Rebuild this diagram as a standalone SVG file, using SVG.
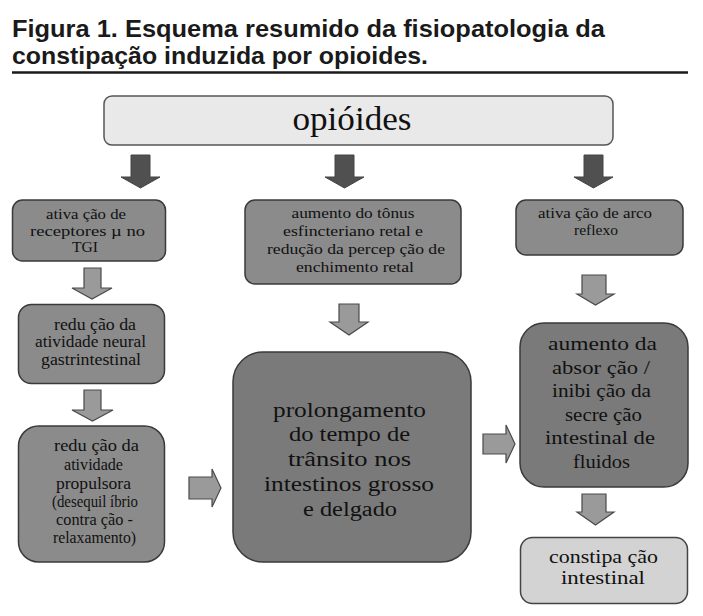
<svg xmlns="http://www.w3.org/2000/svg" width="703" height="616" viewBox="0 0 703 616">
<style>
.title{font-family:"Liberation Sans",Arial,sans-serif;font-weight:bold;font-size:24px;fill:#1a1a1a}
.t{font-family:"Liberation Serif","Times New Roman",serif;fill:#111;text-anchor:middle}
.s14{font-size:15px}
.s15{font-size:16px}
.s20{font-size:20.5px}
.s19{font-size:19.5px}
.box{fill:#8b8b8b;stroke:#3a3a3a;stroke-width:1.5}
.big{fill:#7a7a7a;stroke:#3a3a3a;stroke-width:1.5}
.light{fill:#e9e9e9;stroke:#555;stroke-width:1.5}
.light2{fill:#d3d3d3;stroke:#444;stroke-width:1.5}
.ad{fill:#505050;stroke:#444;stroke-width:1}
.al{fill:#9a9a9a;stroke:#4a4a4a;stroke-width:1.2}
</style>
<rect width="703" height="616" fill="#ffffff"/>
<g id="title">
<text class="title" x="12" y="37" textLength="593" lengthAdjust="spacingAndGlyphs">Figura 1. Esquema resumido da fisiopatologia da</text>
<text class="title" x="12" y="64" textLength="416" lengthAdjust="spacingAndGlyphs">constipação induzida por opioides.</text>
<line x1="12" y1="72.5" x2="688" y2="72.5" stroke="#1a1a1a" stroke-width="2.5"/>
</g>
<g id="connectors">
<polygon class="ad" points="131,155 150,155 150,177 160,177 140.5,188 121,177 131,177"/>
<polygon class="ad" points="335,155 354,155 354,177 364,177 344.5,188 325,177 335,177"/>
<polygon class="ad" points="584,155 603,155 603,177 613,177 593.5,188 574,177 584,177"/>
<polygon class="al" points="84,268 101,268 101,288 112,288 92,299 72,288 84,288"/>
<polygon class="al" points="84,390 101,390 101,410 113,410 92.5,421 72,410 84,410"/>
<polygon class="al" points="339,304 359,304 359,322 368,322 349,335 330,322 339,322"/>
<polygon class="al" points="582,275 606,275 606,294 614,294 595.5,305 577,294 582,294"/>
<polygon class="al" points="582,494 606,494 606,512 614,512 595.5,525 577,512 582,512"/>
<polygon class="al" points="189,477 212,477 212,469 221,488 212,507 212,499 189,499"/>
<polygon class="al" points="483,434 506,434 506,425 515,444 506,463 506,454 483,454"/>
</g>
<g id="opioides">
<rect class="light" x="104" y="96" width="509" height="49" rx="8"/>
<text class="t" x="352" y="130" font-size="33" textLength="119" lengthAdjust="spacingAndGlyphs">opióides</text>
</g>
<g id="receptores">
<rect class="box" x="12.5" y="200" width="153" height="61" rx="10"/>
<text class="t s14" x="86" y="219" textLength="80" lengthAdjust="spacingAndGlyphs">ativa ção de</text>
<text class="t s14" x="87.5" y="235.5" textLength="115" lengthAdjust="spacingAndGlyphs">receptores  µ no</text>
<text class="t s14" x="85" y="252" textLength="26" lengthAdjust="spacingAndGlyphs">TGI</text>
</g>
<g id="tonus">
<rect class="box" x="245" y="200" width="216" height="84" rx="10"/>
<text class="t s14" x="353" y="218" textLength="123" lengthAdjust="spacingAndGlyphs">aumento do tônus</text>
<text class="t s14" x="353" y="236" textLength="140" lengthAdjust="spacingAndGlyphs">esfincteriano retal e</text>
<text class="t s14" x="356" y="254" textLength="178" lengthAdjust="spacingAndGlyphs">redução da percep ção de</text>
<text class="t s14" x="355" y="271.5" textLength="118" lengthAdjust="spacingAndGlyphs">enchimento retal</text>
</g>
<g id="arco">
<rect class="box" x="516" y="200" width="167" height="55" rx="10"/>
<text class="t s14" x="595" y="218" textLength="114" lengthAdjust="spacingAndGlyphs">ativa ção de arco</text>
<text class="t s14" x="596" y="235" textLength="44" lengthAdjust="spacingAndGlyphs">reflexo</text>
</g>
<g id="neural">
<rect class="box" x="18.5" y="304.5" width="146" height="79" rx="13"/>
<text class="t s15" x="95" y="329.5" textLength="82" lengthAdjust="spacingAndGlyphs">redu ção da</text>
<text class="t s15" x="90.5" y="347" textLength="111" lengthAdjust="spacingAndGlyphs">atividade neural</text>
<text class="t s15" x="91" y="364.5" textLength="100" lengthAdjust="spacingAndGlyphs">gastrintestinal</text>
</g>
<g id="propulsora">
<rect class="box" x="18.5" y="426" width="146" height="136" rx="20"/>
<text class="t s15" x="96.5" y="451" textLength="85" lengthAdjust="spacingAndGlyphs">redu ção da</text>
<text class="t s15" x="93.5" y="470" textLength="59" lengthAdjust="spacingAndGlyphs">atividade</text>
<text class="t s15" x="93.5" y="488.5" textLength="75" lengthAdjust="spacingAndGlyphs">propulsora</text>
<text class="t s15" x="95" y="506.5" textLength="86" lengthAdjust="spacingAndGlyphs">(desequil íbrio</text>
<text class="t s15" x="94.5" y="525" textLength="77" lengthAdjust="spacingAndGlyphs">contra ção -</text>
<text class="t s15" x="94.5" y="543" textLength="83" lengthAdjust="spacingAndGlyphs">relaxamento)</text>
</g>
<g id="prolongamento">
<rect class="big" x="233" y="352" width="238" height="210" rx="30"/>
<text class="t s20" x="349.5" y="416.5" textLength="153" lengthAdjust="spacingAndGlyphs">prolongamento</text>
<text class="t s20" x="349.5" y="441" textLength="121" lengthAdjust="spacingAndGlyphs">do tempo de</text>
<text class="t s20" x="349.5" y="465.5" textLength="123" lengthAdjust="spacingAndGlyphs">trânsito nos</text>
<text class="t s20" x="349" y="490.5" textLength="170" lengthAdjust="spacingAndGlyphs">intestinos grosso</text>
<text class="t s20" x="350" y="516" textLength="94" lengthAdjust="spacingAndGlyphs">e delgado</text>
</g>
<g id="absorcao">
<rect class="big" x="520" y="323" width="168" height="164" rx="24"/>
<text class="t s19" x="602.5" y="350" textLength="109" lengthAdjust="spacingAndGlyphs">aumento da</text>
<text class="t s19" x="601" y="373.5" textLength="98" lengthAdjust="spacingAndGlyphs">absor ção /</text>
<text class="t s19" x="601.5" y="397" textLength="99" lengthAdjust="spacingAndGlyphs">inibi ção da</text>
<text class="t s19" x="603.5" y="420.5" textLength="77" lengthAdjust="spacingAndGlyphs">secre ção</text>
<text class="t s19" x="600" y="444" textLength="110" lengthAdjust="spacingAndGlyphs">intestinal de</text>
<text class="t s19" x="601.5" y="467.5" textLength="57" lengthAdjust="spacingAndGlyphs">fluidos</text>
</g>
<g id="constipacao">
<rect class="light2" x="520.5" y="537.5" width="167" height="66" rx="12"/>
<text class="t s19" x="603.5" y="563" textLength="109" lengthAdjust="spacingAndGlyphs">constipa ção</text>
<text class="t s19" x="603" y="584" textLength="84" lengthAdjust="spacingAndGlyphs">intestinal</text>
</g>
</svg>
